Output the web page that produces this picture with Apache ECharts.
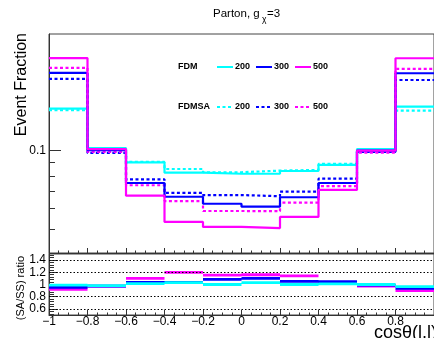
<!DOCTYPE html>
<html>
<head>
<meta charset="utf-8">
<script src="https://cdn.jsdelivr.net/npm/echarts@6/dist/echarts.min.js"></script>
<style>
html,body{margin:0;padding:0;background:#fff;}
#c{width:434px;height:338px;}
</style>
</head>
<body>
<div id="c"></div>
<script>
// Bin edges of cos(theta) histogram
const binEdges = [-1, -0.8, -0.6, -0.4, -0.2, 0, 0.2, 0.4, 0.6, 0.8, 1];
// Event fraction per bin (upper panel)
const fdm200   = [0.145, 0.1024, 0.0901, 0.0823, 0.0815, 0.0815, 0.0835, 0.0881, 0.1015, 0.1476];
const fdm300   = [0.199, 0.1005, 0.0751, 0.0665, 0.0625, 0.0609, 0.0662, 0.0751, 0.1000, 0.1985];
const fdm500   = [0.227, 0.1013, 0.0671, 0.0532, 0.0509, 0.0504, 0.0556, 0.0706, 0.1000, 0.2267];
const fdmsa200 = [0.143, 0.1005, 0.0905, 0.0850, 0.0826, 0.0838, 0.0843, 0.0889, 0.1010, 0.1425];
const fdmsa300 = [0.189, 0.0980, 0.0776, 0.0688, 0.0675, 0.0668, 0.0696, 0.0780, 0.0990, 0.1870];
const fdmsa500 = [0.208, 0.0990, 0.0736, 0.0640, 0.0586, 0.0585, 0.0631, 0.0730, 0.0983, 0.2062];
// (SA/SS) ratio per bin (lower panel)
const ratio200 = [0.99, 0.98, 1.015, 1.03, 1.0, 1.03, 1.0, 1.01, 1.0, 0.965];
const ratio300 = [0.955, 0.975, 1.035, 1.035, 1.085, 1.10, 1.05, 1.045, 0.99, 0.935];
const ratio500 = [0.92, 0.975, 1.10, 1.20, 1.155, 1.16, 1.14, 1.035, 0.975, 0.90];
// Tick values
const upperMajorTicks = [0.1];
const upperMinorTicks = [0.05, 0.06, 0.07, 0.08, 0.09, 0.2];
const ratioLabels = [0.6, 0.8, 1, 1.2, 1.4];
const ratioMinorTicks = [0.52,0.56,0.64,0.68,0.72,0.76,0.84,0.88,0.92,0.96,1.04,1.08,1.12,1.16,1.24,1.28,1.32,1.36,1.44,1.48];
const ratioGridLines = [0.6, 0.8, 1.2, 1.4];

const CYAN = '#00ffff', BLUE = '#0000ff', MAG = '#ff00ff';
const FONT = '"Liberation Sans", Arial, Helvetica, sans-serif';
const DOT = [3, 2.5];

function stepData(vals) {
  const d = vals.map((v, i) => [binEdges[i], v]);
  d.push([binEdges[binEdges.length - 1], vals[vals.length - 1]]);
  return d;
}
function segData(vals) {
  const d = [];
  vals.forEach((v, i) => {
    d.push([binEdges[i], v]);
    d.push([binEdges[i + 1], v]);
    d.push([binEdges[i + 1], '-']);
  });
  return d;
}
function upper(name, vals, color, dotted) {
  return {
    name, type: 'line', xAxisIndex: 0, yAxisIndex: 0, step: 'end',
    data: stepData(vals), showSymbol: false, symbol: 'none',
    lineStyle: { color, width: 2.2, type: dotted ? DOT : 'solid' },
    silent: true
  };
}
function ratio(name, vals, color, extra) {
  return Object.assign({
    name, type: 'line', xAxisIndex: 1, yAxisIndex: 2,
    data: segData(vals), showSymbol: false, symbol: 'none', connectNulls: false,
    lineStyle: { color, width: 2.8 }, silent: true
  }, extra || {});
}
function fmtX(v) {
  const r = Math.round(v * 10) / 10;
  if (r === 0) return '0';
  return (r < 0 ? '\u2212' : '') + String(Math.abs(r));
}

const chart = echarts.init(document.getElementById('c'), null, { renderer: 'canvas' });
const axisLineStyle = { color: '#333', width: 1 };

const option = {
  animation: false,
  textStyle: { fontFamily: FONT },
  grid: [
    { left: 49, top: 34, width: 388, height: 219, show: true, borderColor: '#444', borderWidth: 1, containLabel: false },
    { left: 49, top: 254, width: 388, height: 61, show: true, borderColor: '#444', borderWidth: 1, containLabel: false }
  ],
  xAxis: [
    { gridIndex: 0, type: 'value', min: -1, max: 1, interval: 0.2, position: 'bottom',
      axisLine: { show: true, onZero: false, lineStyle: axisLineStyle },
      axisTick: { show: true, inside: true, length: 5, lineStyle: axisLineStyle },
      minorTick: { show: true, splitNumber: 4, length: 2.5, lineStyle: axisLineStyle },
      axisLabel: { show: false }, splitLine: { show: false } },
    { gridIndex: 1, type: 'value', min: -1, max: 1, interval: 0.2, position: 'bottom',
      axisLine: { show: true, onZero: false, lineStyle: axisLineStyle },
      axisTick: { show: true, inside: true, length: 5, lineStyle: axisLineStyle },
      minorTick: { show: true, splitNumber: 4, length: 2.5, lineStyle: axisLineStyle },
      axisLabel: { show: true, fontSize: 12, color: '#000', fontFamily: FONT, margin: 1, showMaxLabel: false, formatter: fmtX },
      splitLine: { show: false } }
  ],
  yAxis: [
    { gridIndex: 0, type: 'log', logBase: 10, min: 0.0404, max: 0.281, position: 'left',
      axisLine: { show: true, onZero: false, lineStyle: axisLineStyle },
      axisTick: { show: true, inside: true, length: 12, customValues: upperMajorTicks, lineStyle: axisLineStyle },
      axisLabel: { show: true, customValues: upperMajorTicks, formatter: () => '0.1', fontSize: 12, color: '#000', fontFamily: FONT, margin: 3 },
      splitLine: { show: false } },
    { gridIndex: 0, type: 'log', logBase: 10, min: 0.0404, max: 0.281, position: 'left',
      axisLine: { show: false, onZero: false },
      axisTick: { show: true, inside: true, length: 6, customValues: upperMinorTicks, lineStyle: axisLineStyle },
      axisLabel: { show: false }, splitLine: { show: false } },
    { gridIndex: 1, type: 'value', min: 0.5, max: 1.5, position: 'left',
      axisLine: { show: true, onZero: false, lineStyle: axisLineStyle },
      axisTick: { show: true, inside: true, length: 9, customValues: ratioLabels, lineStyle: axisLineStyle },
      axisLabel: { show: true, customValues: ratioLabels, fontSize: 12, color: '#000', fontFamily: FONT, margin: 3,
        formatter: v => String(Math.round(v * 10) / 10) },
      splitLine: { show: false } },
    { gridIndex: 1, type: 'value', min: 0.5, max: 1.5, position: 'left',
      axisLine: { show: false, onZero: false },
      axisTick: { show: true, inside: true, length: 5, customValues: ratioMinorTicks, lineStyle: axisLineStyle },
      axisLabel: { show: false }, splitLine: { show: false } }
  ],
  series: [
    upper('FDMSA 200', fdmsa200, CYAN, true),
    upper('FDMSA 300', fdmsa300, BLUE, true),
    upper('FDMSA 500', fdmsa500, MAG, true),
    upper('FDM 200', fdm200, CYAN, false),
    upper('FDM 300', fdm300, BLUE, false),
    upper('FDM 500', fdm500, MAG, false),
    ratio('ratio 500', ratio500, MAG, {
      markLine: { silent: true, symbol: 'none', label: { show: false },
        lineStyle: { color: '#000', type: [1.5, 2], width: 1 },
        data: ratioGridLines.map(v => ({ yAxis: v })) }
    }),
    ratio('ratio 300', ratio300, BLUE),
    ratio('ratio 200', ratio200, CYAN)
  ],
  graphic: [
    // title
    { type: 'text', left: 213, top: 8, style: { text: 'Parton, g', font: '11.5px ' + FONT, fill: '#000' } },
    { type: 'text', left: 262, top: 15, style: { text: '\u03c7', font: '8.5px ' + FONT, fill: '#000' } },
    { type: 'text', left: 267, top: 8, style: { text: '=3', font: '11.5px ' + FONT, fill: '#000' } },
    // y titles
    { type: 'text', x: 22, y: 33, rotation: Math.PI / 2,
      style: { text: 'Event Fraction', font: '16px ' + FONT, fill: '#000', align: 'right', verticalAlign: 'middle' } },
    { type: 'text', x: 21, y: 256, rotation: Math.PI / 2,
      style: { text: '(SA/SS) ratio', font: '11px ' + FONT, fill: '#000', align: 'right', verticalAlign: 'middle' } },
    // x title
    { type: 'text', x: 437, y: 342, style: { text: 'cos\u03b8(l,l)', font: '18px ' + FONT, fill: '#000', align: 'right', verticalAlign: 'bottom' } },
    // legend row 1
    { type: 'text', x: 178, y: 67, style: { text: 'FDM', font: 'bold 9px ' + FONT, fill: '#000', verticalAlign: 'middle' } },
    { type: 'line', shape: { x1: 217, y1: 67, x2: 233, y2: 67 }, style: { stroke: CYAN, lineWidth: 2 } },
    { type: 'text', x: 235, y: 67, style: { text: '200', font: 'bold 9px ' + FONT, fill: '#000', verticalAlign: 'middle' } },
    { type: 'line', shape: { x1: 256, y1: 67, x2: 272, y2: 67 }, style: { stroke: BLUE, lineWidth: 2 } },
    { type: 'text', x: 274, y: 67, style: { text: '300', font: 'bold 9px ' + FONT, fill: '#000', verticalAlign: 'middle' } },
    { type: 'line', shape: { x1: 295, y1: 67, x2: 311, y2: 67 }, style: { stroke: MAG, lineWidth: 2 } },
    { type: 'text', x: 313, y: 67, style: { text: '500', font: 'bold 9px ' + FONT, fill: '#000', verticalAlign: 'middle' } },
    // legend row 2
    { type: 'text', x: 178, y: 107, style: { text: 'FDMSA', font: 'bold 9px ' + FONT, fill: '#000', verticalAlign: 'middle' } },
    { type: 'line', shape: { x1: 217, y1: 107, x2: 233, y2: 107 }, style: { stroke: CYAN, lineWidth: 2, lineDash: DOT } },
    { type: 'text', x: 235, y: 107, style: { text: '200', font: 'bold 9px ' + FONT, fill: '#000', verticalAlign: 'middle' } },
    { type: 'line', shape: { x1: 256, y1: 107, x2: 272, y2: 107 }, style: { stroke: BLUE, lineWidth: 2, lineDash: DOT } },
    { type: 'text', x: 274, y: 107, style: { text: '300', font: 'bold 9px ' + FONT, fill: '#000', verticalAlign: 'middle' } },
    { type: 'line', shape: { x1: 295, y1: 107, x2: 311, y2: 107 }, style: { stroke: MAG, lineWidth: 2, lineDash: DOT } },
    { type: 'text', x: 313, y: 107, style: { text: '500', font: 'bold 9px ' + FONT, fill: '#000', verticalAlign: 'middle' } }
  ]
};
chart.setOption(option);
</script>
</body>
</html>
